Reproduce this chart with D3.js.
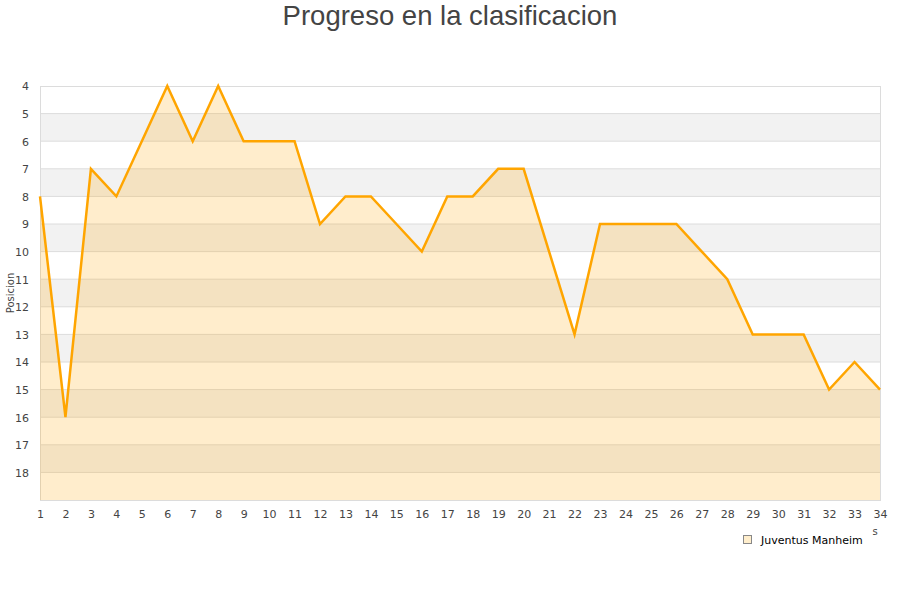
<!DOCTYPE html>
<html>
<head>
  <meta charset="utf-8">
  <title>Progreso en la clasificacion</title>
  <script src="https://d3js.org/d3.v7.min.js"></script>
  <style>
    body { margin: 0; background: #fff; }
    .tick text { font-family: "DejaVu Sans", sans-serif; font-size: 11px; fill: #444; }
  </style>
</head>
<body>
  <svg id="grafico"></svg>

  <script>
    const jornadas = d3.range(1, 35);
    const posiciones = [8, 16, 7, 8, 6, 4, 6, 4, 6, 6, 6, 9, 8, 8, 9, 10, 8, 8, 7, 7,
                        10, 13, 9, 9, 9, 9, 10, 11, 13, 13, 13, 15, 14, 15];
    const etiquetasY = d3.range(4, 19);
    const equipo = "Juventus Manheim";

    const ancho = 900, alto = 600;
    const m = { top: 86, right: 20, bottom: 100, left: 40 };

    const svg = d3.select("#grafico")
      .attr("width", ancho)
      .attr("height", alto);

    const x = d3.scaleLinear().domain([1, 34]).range([m.left, ancho - m.right]);
    const y = d3.scaleLinear().domain([4, 19]).range([m.top, alto - m.bottom]);

    // bandas alternas
    svg.selectAll(".banda")
      .data(d3.range(5, 19, 2))
      .enter()
      .append("rect")
      .attr("x", m.left)
      .attr("y", d => y(d))
      .attr("width", x(34) - m.left)
      .attr("height", y(1) - y(0))
      .style("fill", "#f2f2f2");

    // rejilla
    svg.selectAll(".rejilla")
      .data(d3.range(5, 19))
      .enter()
      .append("line")
      .attr("x1", m.left).attr("x2", x(34))
      .attr("y1", d => y(d)).attr("y2", d => y(d))
      .style("stroke", "#dcdcdc");

    // borde
    svg.append("rect")
      .attr("x", m.left + 0.5).attr("y", m.top + 0.5)
      .attr("width", x(34) - m.left).attr("height", y(19) - m.top)
      .style("fill", "none").style("stroke", "#dcdcdc");

    const datos = jornadas.map((j, i) => ({ j, p: posiciones[i] }));

    const area = d3.area()
      .x(d => x(d.j))
      .y0(y(19))
      .y1(d => y(d.p));

    const linea = d3.line()
      .x(d => x(d.j))
      .y(d => y(d.p));

    svg.append("path")
      .datum(datos)
      .attr("d", area)
      .style("fill", "#ffa500")
      .style("fill-opacity", 0.2);

    svg.append("path")
      .datum(datos)
      .attr("d", linea)
      .style("fill", "none")
      .style("stroke", "#ffa500")
      .style("stroke-width", 2.5)
      .style("stroke-linejoin", "miter");

    // ejes
    const ejeX = svg.append("g")
      .attr("transform", `translate(0,${y(19) + 7})`)
      .call(d3.axisBottom(x).tickValues(jornadas).tickSize(0).tickFormat(d3.format("d")));
    ejeX.select(".domain").remove();

    const ejeY = svg.append("g")
      .attr("transform", `translate(${m.left - 8},0)`)
      .call(d3.axisLeft(y).tickValues(etiquetasY).tickSize(0).tickFormat(d3.format("d")));
    ejeY.select(".domain").remove();
    ejeY.selectAll("text").attr("dy", "0.35em");

    // titulo
    svg.append("text")
      .attr("x", 450).attr("y", 25)
      .attr("text-anchor", "middle")
      .style("font-family", "'Liberation Sans', Arial, sans-serif")
      .style("font-size", "27.5px")
      .style("fill", "#444")
      .text("Progreso en la clasificacion");

    svg.append("text")
      .attr("transform", `translate(14,${(m.top + y(19)) / 2}) rotate(-90)`)
      .attr("text-anchor", "middle")
      .style("font-family", "'DejaVu Sans', sans-serif")
      .style("font-size", "10px")
      .style("fill", "#444")
      .text("Posicion");

    svg.append("text")
      .attr("x", 875).attr("y", 535)
      .attr("text-anchor", "middle")
      .style("font-family", "'DejaVu Sans', sans-serif")
      .style("font-size", "10px")
      .style("fill", "#444")
      .text("s");

    // leyenda
    const leyenda = svg.append("g").attr("transform", "translate(743,535)");
    leyenda.append("rect")
      .attr("x", 0.5).attr("y", 0.5).attr("width", 8).attr("height", 8)
      .style("fill", "#ffeecc").style("stroke", "#888");
    leyenda.append("text")
      .attr("x", 18).attr("y", 8.5)
      .style("font-family", "'DejaVu Sans', sans-serif")
      .style("font-size", "11px")
      .style("fill", "#000")
      .text(equipo);
  </script>
</body>
</html>
